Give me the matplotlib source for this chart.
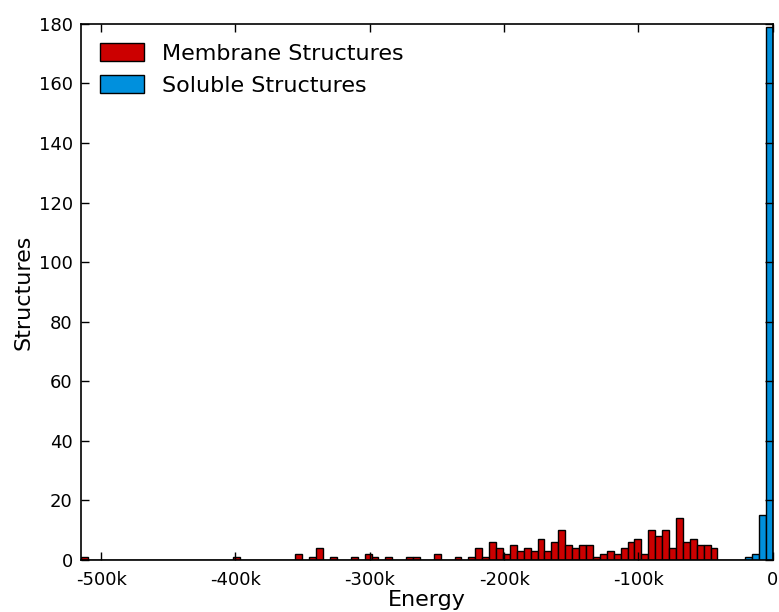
import numpy as np
import matplotlib
matplotlib.use("Agg")
import matplotlib.pyplot as plt
from matplotlib.ticker import FuncFormatter

# Histogram bins: 100 equal bins from -515k to 0
bin_min = -515000
bin_max = 0
n_bins = 100

# Membrane structures: (bin index, count)
membrane_bins = [0, 22, 31, 33, 34, 36, 39, 41, 42, 44, 47, 48, 51, 54, 56, 57, 58, 59,
                 60, 61, 62, 63, 64, 65, 66, 67, 68, 69, 70, 71, 72, 73, 74, 75, 76, 77,
                 78, 79, 80, 81, 82, 83, 84, 85, 86, 87, 88, 89, 90, 91]
membrane_counts = [1, 1, 2, 1, 4, 1, 1, 2, 1, 1, 1, 1, 2, 1, 1, 4, 1, 6,
                   4, 2, 5, 3, 4, 3, 7, 3, 6, 10, 5, 4, 5, 5, 1, 2, 3, 2,
                   4, 6, 7, 2, 10, 8, 10, 4, 14, 6, 7, 5, 5, 4]

# Soluble structures
soluble_bins = [96, 97, 98, 99]
soluble_counts = [1, 2, 15, 179]

y_ticks = [0, 20, 40, 60, 80, 100, 120, 140, 160, 180]
x_ticks = [-500000, -400000, -300000, -200000, -100000, 0]

edges = np.linspace(bin_min, bin_max, n_bins + 1)
centers = (edges[:-1] + edges[1:]) / 2

plt.rcParams['font.family'] = ['DejaVu Sans']
fig = plt.figure(figsize=(7.79, 6.12), dpi=100)
ax = fig.add_axes([0.104, 0.085, 0.888, 0.876])

ax.hist(centers[membrane_bins], bins=edges, weights=membrane_counts,
        color='#cc0000', edgecolor='black', linewidth=1.0, label='Membrane Structures')
ax.hist(centers[soluble_bins], bins=edges, weights=soluble_counts,
        color='#0090dd', edgecolor='black', linewidth=1.0, label='Soluble Structures')

ax.set_xlim(bin_min, bin_max)
ax.set_ylim(0, 180)
ax.set_xticks(x_ticks)
ax.set_yticks(y_ticks)
ax.xaxis.set_major_formatter(FuncFormatter(lambda v, p: '0' if v == 0 else f'{int(v/1000)}k'))
ax.tick_params(direction='in', top=True, right=True, length=6, width=1, labelsize=13)
ax.tick_params(axis='x', pad=8)
ax.tick_params(axis='y', pad=6)
for s in ax.spines.values():
    s.set_linewidth(1.2)

ax.set_xlabel('Energy', fontsize=16, labelpad=1)
ax.set_ylabel('Structures', fontsize=16, labelpad=4)

leg = ax.legend(loc='upper left', frameon=False, fontsize=16, handlelength=2.0,
                handleheight=0.9, borderaxespad=0.45, labelspacing=0.5, handletextpad=0.8)

fig.savefig('out.png', dpi=100)
